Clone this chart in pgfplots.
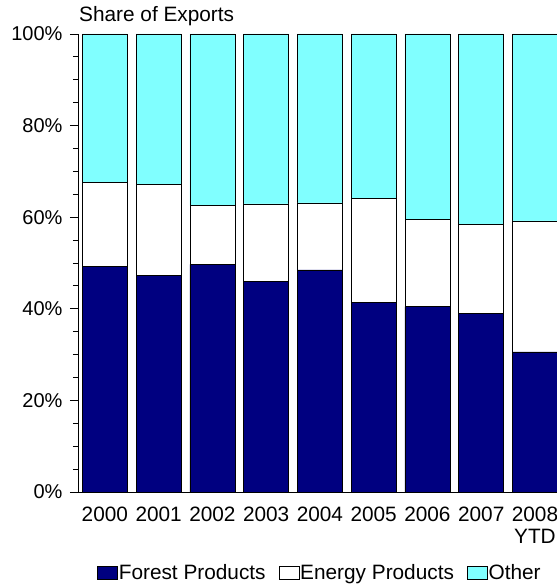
\documentclass[border=0pt]{standalone}
\usepackage{fontspec}
\setmainfont{Liberation Sans}
\usepackage{pgfplots}
\pgfplotsset{compat=1.18}
\definecolor{navyb}{RGB}{0,0,128}
\definecolor{cyanb}{RGB}{128,255,255}
\newcommand{\fs}{\fontsize{20.8}{22}\selectfont}
\begin{document}
\begin{tikzpicture}
\useasboundingbox (0,0) rectangle (557pt,584pt);
\begin{axis}[
  at={(78pt,92pt)}, anchor=south west,
  scale only axis, width=479pt, height=458pt,
  ybar stacked, bar width=45pt,
  xmin=-0.5, xmax=8.41, ymin=0, ymax=100,
  axis lines*=left,
  axis line style={black, line width=0.8pt},
  xtick={0,1,2,3,4,5,6,7,8},
  xticklabels={2000,2001,2002,2003,2004,2005,2006,2007,{2008\\YTD}},
  x tick label style={align=center, font=\fs, yshift=-3pt},
  major x tick style={draw=none},
  ytick={0,20,40,60,80,100},
  yticklabels={0\%,20\%,40\%,60\%,80\%,100\%},
  y tick label style={font=\fontsize{20}{22}\selectfont, xshift=-4pt},
  minor y tick num=3,
  tick align=outside,
  major tick length=8pt, minor tick length=5pt,
  y tick style={black, line width=0.8pt},
  title={Share of Exports},
  title style={at={(0,1)}, anchor=base west, yshift=6pt, xshift=1pt, font=\fs, inner sep=0pt},
  legend style={at={(0.504,-0.177)}, anchor=center, draw=none, font=\fs,
    legend columns=-1,
    /tikz/every even column/.append style={column sep=12pt},
    nodes={inner xsep=1pt}},
  legend image code/.code={\draw[#1, draw=black, line width=0.6pt] (0pt,-6.5pt) rectangle (20pt,6.5pt);},
  every axis plot/.append style={draw=black, line width=0.7pt},
]
\addplot[fill=navyb] coordinates {(0,49.3) (1,47.2) (2,49.7) (3,46.0) (4,48.5) (5,41.3) (6,40.5) (7,38.9) (8,30.6)};
\addplot[fill=white] coordinates {(0,18.2) (1,20.0) (2,12.8) (3,16.9) (4,14.6) (5,22.8) (6,19.1) (7,19.5) (8,28.6)};
\addplot[fill=cyanb] coordinates {(0,32.5) (1,32.8) (2,37.5) (3,37.1) (4,36.9) (5,35.9) (6,40.4) (7,41.6) (8,40.8)};
\legend{Forest Products,Energy Products,Other}
\end{axis}
\end{tikzpicture}
\end{document}
